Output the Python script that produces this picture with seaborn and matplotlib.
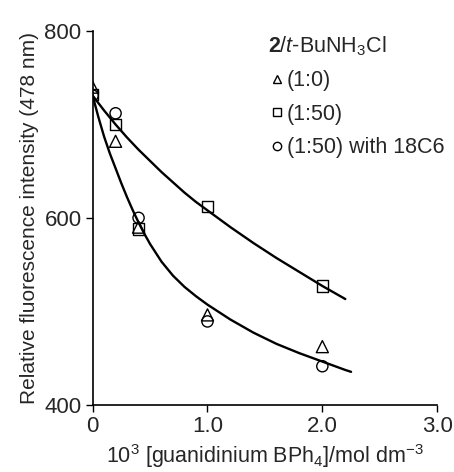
import pandas as pd
import seaborn as sns
import matplotlib.pyplot as plt

conc = [0.0, 0.2, 0.4, 1.0, 2.0]
ratio_1_0 = [740, 682, 590, 496, 462]
ratio_1_50 = [732, 700, 588, 612, 527]
ratio_1_50_18c6 = [731, 712, 600, 489, 441]

# fitted curves, sampled off the figure
upper_x = [0.0, 0.1, 0.2, 0.3, 0.4, 0.5, 0.6, 0.7, 0.8, 0.9, 1.0, 1.2, 1.4, 1.6, 1.8, 2.0, 2.2]
upper_y = [731, 715, 700, 686, 673, 661, 649, 638, 627, 617, 608, 590, 573, 557, 542, 527, 513]
lower_x = [0.0, 0.05, 0.1, 0.15, 0.2, 0.25, 0.3, 0.35, 0.4, 0.45, 0.5, 0.6, 0.7, 0.8, 0.9, 1.0,
           1.2, 1.4, 1.6, 1.8, 2.0, 2.2, 2.25]
lower_y = [731, 708, 687, 669, 653, 637, 622, 608, 595, 583, 572, 553, 538, 526, 516, 507,
           491, 477, 465, 455, 446, 437, 435]

labels = ['(1:0)', '(1:50)', '(1:50) with 18C6']
markers = ['^', 's', 'o']

sns.set_style('ticks')
plt.rcParams['font.family'] = ['Liberation Sans', 'DejaVu Sans']
plt.rcParams['mathtext.fontset'] = 'custom'
plt.rcParams['mathtext.rm'] = 'Liberation Sans'
plt.rcParams['mathtext.it'] = 'Liberation Sans:italic'
plt.rcParams['mathtext.bf'] = 'Liberation Sans:bold'

fig = plt.figure(figsize=(4.54, 4.72), dpi=100)
ax = fig.add_axes([0.204, 0.143, 0.759, 0.791])

sns.lineplot(x=upper_x, y=upper_y, ax=ax, color='black', lw=1.7, sort=False)
sns.lineplot(x=lower_x, y=lower_y, ax=ax, color='black', lw=1.7, sort=False)

handles = []
for vals, lab, m, s in zip([ratio_1_0, ratio_1_50, ratio_1_50_18c6], labels, markers, [75, 70, 65]):
    df = pd.DataFrame({'x': conc, 'y': vals})
    sns.scatterplot(data=df, x='x', y='y', ax=ax, marker=m, s=s,
                    facecolors='none', edgecolor='black', linewidth=1.0, zorder=3)
    handles.append(plt.Line2D([], [], ls='none', marker=m, markersize=6,
                              markerfacecolor='none', markeredgecolor='black', markeredgewidth=1.0))

leg = ax.legend(handles, labels, title=r'$\mathbf{2}$/$\mathit{t}$-BuNH$_3$Cl',
                loc='upper left', bbox_to_anchor=(0.485, 1.015), frameon=False,
                fontsize=15.5, title_fontsize=15.5, handletextpad=0.05, handlelength=0.8,
                labelspacing=0.58, alignment='left', borderaxespad=0)

ax.set_xlim(0, 3.0)
ax.set_ylim(400, 800)
ax.set_xticks([0, 1.0, 2.0, 3.0])
ax.set_xticklabels(['0', '1.0', '2.0', '3.0'])
ax.set_yticks([400, 600, 800])
ax.tick_params(labelsize=16, width=1.0, length=5, color='black', pad=3)
for sp in ['left', 'bottom']:
    ax.spines[sp].set_linewidth(1.2)
    ax.spines[sp].set_color('black')
sns.despine(ax=ax)

ax.set_xlabel(r'10$^3$ [guanidinium BPh$_4$]/mol dm$^{-3}$', fontsize=15.5, labelpad=4)
ax.set_ylabel('Relative fluorescence intensity (478 nm)', fontsize=15, labelpad=4)

fig.savefig('out.png', dpi=100)
